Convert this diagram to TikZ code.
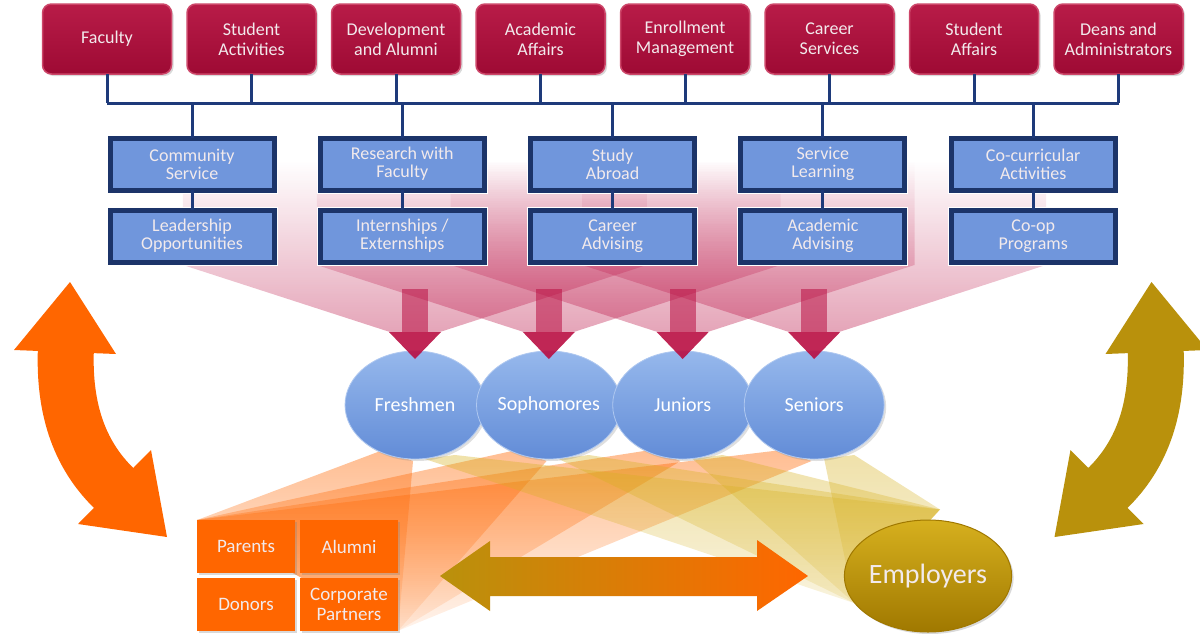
\documentclass[tikz,border=0pt]{standalone}
\usepackage{fontspec}
\setmainfont{Carlito}
\usetikzlibrary{positioning, shapes.geometric, shadows, fadings}

\definecolor{deptred}{RGB}{158,10,52}
\definecolor{deptlight}{RGB}{184,28,72}
\definecolor{deptrim}{RGB}{205,70,105}
\definecolor{paletext}{RGB}{242,234,236}
\definecolor{progblue}{RGB}{112,150,220}
\definecolor{progframe}{RGB}{28,52,105}
\definecolor{linkblue}{RGB}{30,58,122}
\definecolor{ballblue}{RGB}{98,140,215}
\definecolor{ballhi}{RGB}{150,184,236}
\definecolor{ballrim}{RGB}{175,200,240}
\definecolor{fanred}{RGB}{185,14,66}
\definecolor{flame}{RGB}{255,102,0}
\definecolor{ochre}{RGB}{185,145,12}
\definecolor{ochrehi}{RGB}{214,176,30}
\definecolor{ochredark}{RGB}{160,120,0}

\pgfdeclarelayer{background}
\pgfsetlayers{background,main}

\tikzfading[name=fadeup, top color=transparent!100, middle color=transparent!85, bottom color=transparent!25]
\tikzfading[name=fadedown, top color=transparent!15, bottom color=transparent!85]
\tikzfading[name=fadegold, top color=transparent!25, bottom color=transparent!70]

% big curved arrow at the sides
\newcommand{\curlarrow}[1]{%
  \fill[#1] (14,350) -- (70,282) -- (116,354) -- cycle;
  \draw[#1, line width=56pt] (66,346) .. controls (63,410) and (80,458) .. (119,493);
  \fill[#1] (151,450) -- (167,537) -- (78,524) -- cycle;
}

\begin{document}
\begin{tikzpicture}[x=1pt, y=-1pt, font=\fontsize{18}{20}\selectfont]
  \tikzset{
    dept/.style={rounded corners=9pt, draw=deptrim, line width=1.5pt, top color=deptlight, bottom color=deptred,
      text=paletext, align=center, minimum width=129pt, minimum height=70pt, outer sep=0pt,
      drop shadow={opacity=0.3, shadow xshift=2pt, shadow yshift=-2pt}},
    prog/.style={drop shadow={opacity=0.35, shadow xshift=2pt, shadow yshift=-2pt},
      preaction={draw=white, line width=7pt}, fill=progblue, draw=progframe, line width=5pt,
      text=paletext, align=center, minimum width=164pt, minimum height=52pt, outer sep=0pt,
      font=\fontsize{18}{18}\selectfont},
    year/.style={ellipse, minimum width=140pt, minimum height=108pt, inner sep=0pt, outer sep=0pt,
      top color=ballhi, bottom color=ballblue, draw=ballrim, line width=0.8pt, text=white,
      font=\fontsize{20}{22}\selectfont, drop shadow={opacity=0.25, shadow xshift=2pt, shadow yshift=-2pt}},
    partner/.style={fill=flame, minimum width=98pt, minimum height=53pt, outer sep=0pt, align=center,
      text=paletext, font=\fontsize{19}{20}\selectfont,
      drop shadow={opacity=0.3, shadow xshift=2pt, shadow yshift=-2pt}},
    employer/.style={ellipse, minimum width=166pt, minimum height=112pt, inner sep=0pt,
      top color=ochrehi, bottom color=ochredark, draw=ochredark, line width=1pt,
      text=paletext, font=\fontsize{28}{30}\selectfont,
      drop shadow={opacity=0.3, shadow xshift=2pt, shadow yshift=-2pt}},
    link/.style={draw=linkblue, line width=3pt}
  }
  \useasboundingbox (0,0) rectangle (1200,633);

  % departments
  \node[dept] (fac) at (107,39) {Faculty};
  \node[dept] (stact) [right=15.5pt of fac] {Student\\Activities};
  \node[dept] (dev) [right=15.5pt of stact] {Development\\and Alumni};
  \node[dept] (acad) [right=15.5pt of dev] {Academic\\Affairs};
  \node[dept] (enrl) [right=15.5pt of acad] {Enrollment\\Management};
  \node[dept] (career) [right=15.5pt of enrl] {Career\\Services};
  \node[dept] (staff) [right=15.5pt of career] {Student\\Affairs};
  \node[dept] (deans) [right=15.5pt of staff] {Deans and\\Administrators};

  % programs, two rows
  \node[prog] (cs) at (192,164) {Community\\Service};
  \node[prog] (rf) [right=46.3pt of cs] {Research with\\Faculty};
  \node[prog] (sa) [right=46.3pt of rf] {Study\\Abroad};
  \node[prog] (sl) [right=46.3pt of sa] {Service\\Learning};
  \node[prog] (cc) [right=46.3pt of sl] {Co-curricular\\Activities};

  \node[prog] (lead) [below=20pt of cs] {Leadership\\Opportunities};
  \node[prog] (intern) [below=20pt of rf] {Internships /\\Externships};
  \node[prog] (cadv) [below=20pt of sa] {Career\\Advising};
  \node[prog] (aadv) [below=20pt of sl] {Academic\\Advising};
  \node[prog] (coop) [below=20pt of cc] {Co-op\\Programs};

  \coordinate (bus) at (0,103);
  \draw[link] (fac.south |- bus) -- (deans.south |- bus);
  \foreach \d in {fac,stact,dev,acad,enrl,career,staff,deans}
    \draw[link] (\d.south) -- (\d.south |- bus);
  \foreach \p/\q in {cs/lead,rf/intern,sa/cadv,sl/aadv,cc/coop} {
    \draw[link] (\p.north |- bus) -- (\p.north);
    \draw[link] (\p.south) -- (\q.north);
  }

  % class years
  \node[year] (fresh) at (415,405) {Freshmen};
  \node[year] (soph) [right=-8.5pt of fresh] {Sophomores};
  \node[year] (jun) [right=-8.5pt of soph] {Juniors};
  \node[year] (sen) [right=-8.5pt of jun] {Seniors};

  % outside groups
  \node[partner] (par) at (246,546.5) {Parents};
  \node[partner] (alum) [right=5pt of par] {Alumni};
  \node[partner] (don) [below=5pt of par] {Donors};
  \node[partner] (corp) [right=5pt of don] {Corporate\\Partners};
  \node[employer] (emp) at (928,576) {Employers};

  % funnels
  \begin{pgfonlayer}{background}
    \foreach \n in {fresh,soph,jun,sen}
      \fill[fanred, fill opacity=0.5, path fading=fadeup]
        ([xshift=-232pt,yshift=190pt]\n.north) -- ([xshift=232pt,yshift=190pt]\n.north)
        -- ([xshift=232pt,yshift=86pt]\n.north) -- ([xshift=25pt,yshift=19pt]\n.north)
        -- ([xshift=-25pt,yshift=19pt]\n.north) -- ([xshift=-232pt,yshift=86pt]\n.north) -- cycle;
    \foreach \n in {fresh,soph,jun,sen}
      \fill[flame, fill opacity=0.5, path fading=fadedown]
        ([xshift=-32pt,yshift=9pt]\n.south) -- ([xshift=-2pt,yshift=-2pt]\n.south)
        -- (corp.south east) -- (par.north west) -- cycle;
    \foreach \n in {fresh,soph,jun,sen}
      \fill[ochrehi, fill opacity=0.5, path fading=fadegold]
        ([xshift=10pt]\n.south) -- ([xshift=40pt,yshift=4pt]\n.south)
        -- ([xshift=12pt,yshift=10pt]emp.north) -- (emp.200) -- cycle;
  \end{pgfonlayer}

  \foreach \n in {fresh,soph,jun,sen} {
    \fill[fanred, opacity=0.55] ([xshift=-13pt,yshift=62pt]\n.north) rectangle ([xshift=13pt,yshift=19pt]\n.north);
    \fill[fanred, opacity=0.9] ([xshift=-26pt,yshift=19pt]\n.north) -- ([xshift=26pt,yshift=19pt]\n.north)
      -- ([yshift=-8pt]\n.north) -- cycle;
  }

  % two-way arrow between partners and employers
  \shade[left color=ochre, middle color=flame!70!ochre, right color=flame]
    (440,576) -- (490,541) -- (490,557) -- (757,557) -- (757,540) -- (808,576)
    -- (757,611) -- (757,596) -- (490,596) -- (490,611) -- cycle;

  \curlarrow{flame}
  \begin{scope}[xshift=1221.5pt, xscale=-1]
    \curlarrow{ochre}
  \end{scope}
\end{tikzpicture}
\end{document}
